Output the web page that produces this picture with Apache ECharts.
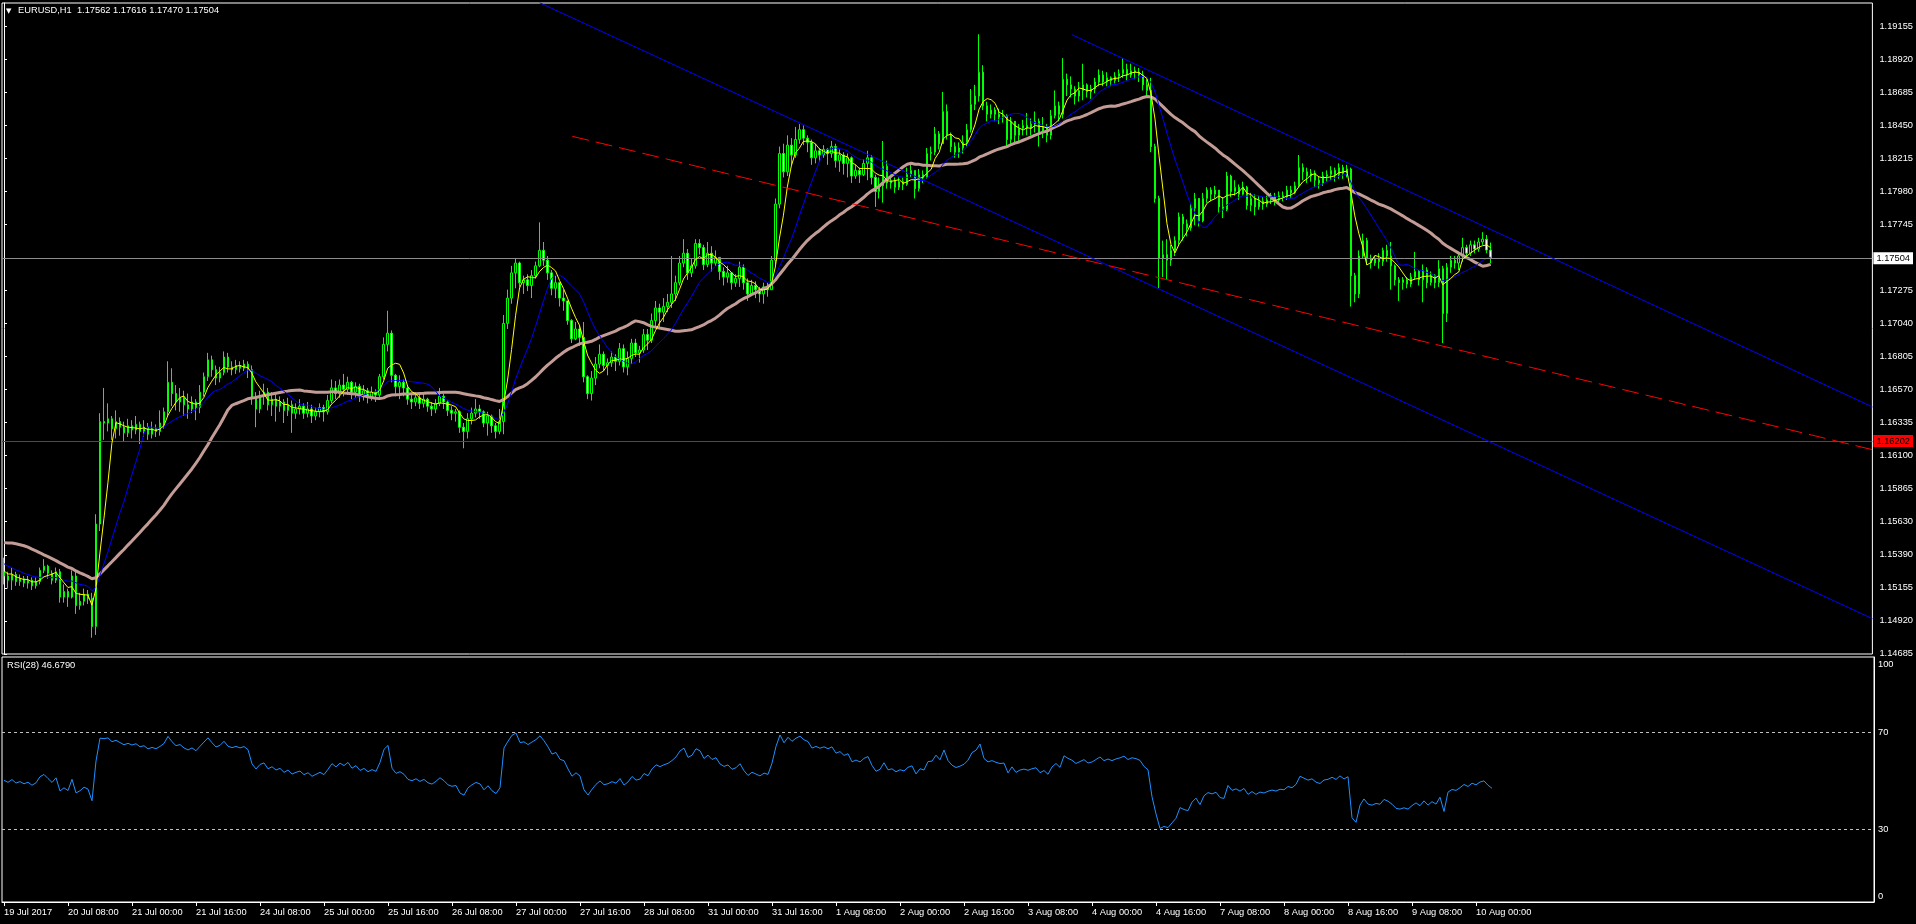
<!DOCTYPE html>
<html><head><meta charset="utf-8">
<script src="https://cdn.jsdelivr.net/npm/echarts@6/dist/echarts.min.js"></script>
<style>html,body{margin:0;padding:0;background:#000;overflow:hidden}#c{width:1916px;height:924px}</style>
</head><body><div id="c"></div>
<script>
// hourly closes before the first visible bar (used only to warm up MA / RSI)
const priorCloses = [1.1522,1.1530,1.1527,1.1538,1.1545,1.1542,1.1556,1.1566,1.1561,1.1574,1.1580,1.1572,1.1568,1.1574,1.1565,1.1560,1.1565,1.1557,1.1562,1.1554,1.1549,1.1554,1.1544,1.1538,1.1542,1.1534,1.1538,1.1530,1.1534,1.1527,1.1532,1.1525,1.1530,1.1527];

const closes = [
1.1524,1.1521,1.1525,1.1520,1.1522,1.1519,1.1521,1.1517,1.1520,1.1528,1.1531,1.1526,1.1521,1.1527,1.1509,1.1513,1.1509,1.1524,1.1503,1.1506,
1.1511,1.1508,1.1488,1.1561,1.1634,1.1633,1.1636,1.1629,1.1634,1.1630,1.1626,1.1631,1.1628,1.1632,1.1627,1.1630,1.1625,1.1629,1.1627,1.1633,
1.1641,1.1662,1.1654,1.1648,1.1651,1.1646,1.1643,1.1648,1.1644,1.1655,1.1666,1.1678,1.1671,1.1665,1.1669,1.1680,1.1673,1.1671,1.1674,1.1672,
1.1675,1.1671,1.1651,1.1643,1.1652,1.1655,1.1646,1.1650,1.1645,1.1648,1.1642,1.1646,1.1640,1.1643,1.1645,1.1640,1.1643,1.1638,1.1641,1.1644,
1.1641,1.1649,1.1658,1.1654,1.1660,1.1657,1.1662,1.1655,1.1659,1.1653,1.1656,1.1652,1.1655,1.1653,1.1666,1.1689,1.1697,1.1667,1.1659,1.1662,
1.1658,1.1650,1.1648,1.1651,1.1647,1.1650,1.1645,1.1643,1.1647,1.1652,1.1648,1.1642,1.1640,1.1641,1.1630,1.1627,1.1636,1.1640,1.1643,1.1641,
1.1633,1.1638,1.1631,1.1627,1.1634,1.1704,1.1722,1.1740,1.1747,1.1733,1.1735,1.1731,1.1738,1.1745,1.1756,1.1749,1.1740,1.1729,1.1733,1.1722,
1.1720,1.1706,1.1693,1.1700,1.1694,1.1666,1.1654,1.1665,1.1675,1.1682,1.1674,1.1676,1.1680,1.1677,1.1686,1.1673,1.1679,1.1690,1.1683,1.1685,
1.1696,1.1692,1.1706,1.1715,1.1712,1.1716,1.1719,1.1725,1.1733,1.1747,1.1754,1.1740,1.1745,1.1761,1.1758,1.1746,1.1754,1.1747,1.1751,1.1741,
1.1737,1.1740,1.1733,1.1736,1.1744,1.1733,1.1725,1.1731,1.1728,1.1725,1.1730,1.1728,1.1749,1.1789,1.1825,1.1812,1.1831,1.1824,1.1835,1.1842,
1.1836,1.1833,1.1822,1.1827,1.1824,1.1828,1.1825,1.1830,1.1820,1.1824,1.1818,1.1822,1.1809,1.1813,1.1810,1.1818,1.1822,1.1808,1.1798,1.1802,
1.1816,1.1804,1.1806,1.1801,1.1805,1.1803,1.1810,1.1813,1.1800,1.1810,1.1808,1.1825,1.1826,1.1839,1.1832,1.1855,1.1838,1.1830,1.1826,1.1829,
1.1833,1.1842,1.1860,1.1866,1.1883,1.1859,1.1853,1.1856,1.1853,1.1851,1.1852,1.1835,1.1848,1.1838,1.1843,1.1845,1.1843,1.1846,1.1848,1.1840,
1.1844,1.1838,1.1852,1.1859,1.1853,1.1878,1.1874,1.1871,1.1866,1.1870,1.1874,1.1869,1.1871,1.1876,1.1881,1.1876,1.1879,1.1877,1.1880,1.1882,
1.1885,1.1881,1.1884,1.1883,1.1881,1.1874,1.1870,1.1830,1.1793,1.1750,1.1753,1.1749,1.1756,1.1763,1.1780,1.1775,1.1772,1.1786,1.1793,1.1777,
1.1793,1.1799,1.1796,1.1799,1.1787,1.1785,1.1809,1.1798,1.1801,1.1796,1.1801,1.1788,1.1793,1.1787,1.1791,1.1789,1.1792,1.1794,1.1792,1.1795,
1.1794,1.1799,1.1797,1.1802,1.1815,1.1812,1.1809,1.1811,1.1806,1.1804,1.1809,1.1810,1.1813,1.1810,1.1815,1.1811,1.1814,1.1738,1.1725,1.1752,
1.1763,1.1750,1.1747,1.1750,1.1748,1.1756,1.1752,1.1745,1.1735,1.1733,1.1735,1.1732,1.1737,1.1741,1.1735,1.1742,1.1733,1.1738,1.1733,1.1743,
1.1711,1.1744,1.1749,1.1747,1.1752,1.1758,1.1754,1.1760,1.1757,1.1762,1.1764,1.17562,1.17504];

const highs = [
1.1537,1.1527,1.1530,1.1527,1.1525,1.1524,1.1524,1.1523,1.1523,1.1530,1.1536,1.1532,1.1528,1.1530,1.1529,1.1518,1.1515,1.1528,1.1527,1.1512,
1.1515,1.1514,1.1512,1.1568,1.1640,1.1658,1.1647,1.1638,1.1642,1.1637,1.1634,1.1636,1.1635,1.1638,1.1634,1.1635,1.1633,1.1634,1.1632,1.1642,
1.1644,1.1677,1.1672,1.1660,1.1658,1.1656,1.1654,1.1652,1.1650,1.1660,1.1669,1.1683,1.1681,1.1674,1.1673,1.1684,1.1683,1.1677,1.1678,1.1677,
1.1678,1.1677,1.1674,1.1655,1.1656,1.1661,1.1658,1.1655,1.1654,1.1652,1.1650,1.1651,1.1649,1.1647,1.1650,1.1647,1.1648,1.1646,1.1644,1.1647,
1.1646,1.1653,1.1664,1.1663,1.1664,1.1668,1.1666,1.1663,1.1662,1.1661,1.1660,1.1658,1.1659,1.1657,1.1668,1.1694,1.1713,1.1699,1.1668,1.1667,
1.1664,1.1660,1.1653,1.1655,1.1653,1.1654,1.1651,1.1648,1.1650,1.1658,1.1654,1.1649,1.1645,1.1643,1.1642,1.1633,1.1640,1.1644,1.1650,1.1646,
1.1642,1.1641,1.1639,1.1633,1.1643,1.1710,1.1728,1.1745,1.1750,1.1748,1.1738,1.1739,1.1742,1.1748,1.1776,1.1762,1.1752,1.1742,1.1738,1.1733,
1.1728,1.1720,1.1707,1.1705,1.1703,1.1705,1.1667,1.1670,1.1680,1.1689,1.1684,1.1679,1.1684,1.1682,1.1690,1.1689,1.1684,1.1693,1.1693,1.1688,
1.1700,1.1700,1.1711,1.1720,1.1718,1.1722,1.1725,1.1752,1.1738,1.1752,1.1764,1.1757,1.1750,1.1764,1.1764,1.1760,1.1762,1.1759,1.1756,1.1748,
1.1744,1.1745,1.1740,1.1739,1.1748,1.1746,1.1736,1.1735,1.1734,1.1730,1.1733,1.1733,1.1752,1.1793,1.1830,1.1832,1.1838,1.1836,1.1844,1.1846,
1.1845,1.1838,1.1835,1.1832,1.1829,1.1831,1.1829,1.1834,1.1832,1.1828,1.1826,1.1825,1.1823,1.1817,1.1815,1.1821,1.1827,1.1824,1.1810,1.1808,
1.1834,1.1820,1.1810,1.1808,1.1808,1.1808,1.1815,1.1818,1.1813,1.1814,1.1813,1.1829,1.1830,1.1844,1.1841,1.1869,1.1860,1.1840,1.1833,1.1833,
1.1838,1.1846,1.1871,1.1874,1.1910,1.1888,1.1862,1.1860,1.1858,1.1857,1.1856,1.1853,1.1851,1.1847,1.1846,1.1849,1.1854,1.1850,1.1855,1.1850,
1.1851,1.1846,1.1856,1.1870,1.1862,1.1893,1.1882,1.1880,1.1873,1.1876,1.1889,1.1875,1.1874,1.1879,1.1885,1.1884,1.1883,1.1880,1.1883,1.1885,
1.1893,1.1889,1.1889,1.1887,1.1886,1.1884,1.1878,1.1879,1.1832,1.1795,1.1763,1.1764,1.1760,1.1766,1.1783,1.1782,1.1778,1.1789,1.1797,1.1792,
1.1797,1.1801,1.1801,1.1802,1.1799,1.1794,1.1812,1.1810,1.1806,1.1803,1.1805,1.1802,1.1797,1.1796,1.1795,1.1794,1.1795,1.1797,1.1797,1.1798,
1.1798,1.1802,1.1802,1.1805,1.1824,1.1818,1.1815,1.1814,1.1813,1.1809,1.1812,1.1813,1.1816,1.1815,1.1818,1.1817,1.1817,1.1815,1.1740,1.1756,
1.1768,1.1765,1.1753,1.1752,1.1754,1.1758,1.1760,1.1762,1.1746,1.1737,1.1737,1.1737,1.1740,1.1755,1.1742,1.1746,1.1744,1.1741,1.1739,1.1749,
1.1745,1.1747,1.1752,1.1752,1.1754,1.1765,1.1760,1.1763,1.1763,1.1765,1.1769,1.1767,1.17616];

const lows = [
1.1518,1.1515,1.1514,1.1517,1.1517,1.1516,1.1515,1.1514,1.1515,1.1518,1.1526,1.1522,1.1518,1.1519,1.1505,1.1505,1.1502,1.1508,1.1497,1.1500,
1.1503,1.1504,1.1480,1.1482,1.1556,1.1621,1.1627,1.1621,1.1622,1.1624,1.1620,1.1623,1.1622,1.1625,1.1618,1.1623,1.1621,1.1622,1.1623,1.1624,
1.1629,1.1638,1.1645,1.1642,1.1641,1.1638,1.1636,1.1640,1.1635,1.1640,1.1652,1.1663,1.1666,1.1660,1.1662,1.1667,1.1669,1.1667,1.1668,1.1669,
1.1670,1.1665,1.1646,1.1630,1.1640,1.1646,1.1642,1.1638,1.1634,1.1641,1.1633,1.1638,1.1626,1.1636,1.1639,1.1636,1.1637,1.1633,1.1635,1.1637,
1.1634,1.1639,1.1647,1.1650,1.1651,1.1652,1.1653,1.1650,1.1651,1.1648,1.1649,1.1647,1.1649,1.1648,1.1651,1.1664,1.1684,1.1662,1.1652,1.1650,
1.1652,1.1646,1.1643,1.1645,1.1643,1.1644,1.1641,1.1638,1.1640,1.1645,1.1643,1.1638,1.1635,1.1634,1.1626,1.1615,1.1622,1.1632,1.1637,1.1636,
1.1630,1.1624,1.1626,1.1622,1.1625,1.1625,1.1700,1.1718,1.1729,1.1730,1.1725,1.1727,1.1722,1.1736,1.1744,1.1745,1.1735,1.1724,1.1722,1.1716,
1.1713,1.1703,1.1690,1.1692,1.1688,1.1662,1.1650,1.1649,1.1660,1.1672,1.1670,1.1667,1.1673,1.1670,1.1674,1.1669,1.1667,1.1675,1.1680,1.1676,
1.1683,1.1685,1.1690,1.1702,1.1700,1.1705,1.1712,1.1715,1.1720,1.1731,1.1744,1.1735,1.1737,1.1743,1.1753,1.1742,1.1744,1.1741,1.1745,1.1735,
1.1731,1.1733,1.1728,1.1730,1.1730,1.1728,1.1720,1.1724,1.1722,1.1719,1.1718,1.1723,1.1728,1.1746,1.1786,1.1808,1.1809,1.1817,1.1822,1.1832,
1.1831,1.1826,1.1817,1.1818,1.1819,1.1822,1.1817,1.1822,1.1815,1.1812,1.1810,1.1808,1.1804,1.1807,1.1804,1.1809,1.1806,1.1803,1.1787,1.1793,
1.1790,1.1800,1.1800,1.1797,1.1799,1.1799,1.1802,1.1808,1.1793,1.1798,1.1804,1.1807,1.1820,1.1824,1.1828,1.1832,1.1835,1.1826,1.1822,1.1822,
1.1825,1.1830,1.1840,1.1856,1.1862,1.1856,1.1848,1.1850,1.1848,1.1846,1.1847,1.1830,1.1832,1.1833,1.1834,1.1838,1.1838,1.1838,1.1840,1.1830,
1.1836,1.1833,1.1835,1.1850,1.1848,1.1850,1.1866,1.1865,1.1860,1.1862,1.1863,1.1865,1.1864,1.1868,1.1873,1.1873,1.1873,1.1873,1.1875,1.1876,
1.1879,1.1877,1.1879,1.1878,1.1876,1.1870,1.1866,1.1826,1.1790,1.1729,1.1737,1.1735,1.1745,1.1752,1.1760,1.1763,1.1766,1.1770,1.1774,1.1773,
1.1776,1.1790,1.1791,1.1793,1.1783,1.1779,1.1784,1.1794,1.1795,1.1792,1.1795,1.1785,1.1784,1.1781,1.1785,1.1785,1.1787,1.1789,1.1788,1.1790,
1.1791,1.1792,1.1793,1.1796,1.1801,1.1806,1.1804,1.1805,1.1801,1.1800,1.1802,1.1805,1.1806,1.1805,1.1807,1.1807,1.1808,1.1716,1.1719,1.1722,
1.1750,1.1746,1.1743,1.1745,1.1743,1.1745,1.1748,1.1728,1.1731,1.1720,1.1728,1.1729,1.1730,1.1735,1.1731,1.1719,1.1729,1.1731,1.1729,1.1730,
1.1690,1.1705,1.1740,1.1743,1.1742,1.1748,1.1750,1.1752,1.1754,1.1755,1.1760,1.1754,1.17470];

// x-axis tick labels, one every 16 hourly bars
const tickLabels = ['19 Jul 2017','20 Jul 08:00','21 Jul 00:00','21 Jul 16:00','24 Jul 08:00','25 Jul 00:00','25 Jul 16:00','26 Jul 08:00','27 Jul 00:00','27 Jul 16:00','28 Jul 08:00','31 Jul 00:00','31 Jul 16:00','1 Aug 08:00','2 Aug 00:00','2 Aug 16:00','3 Aug 08:00','4 Aug 00:00','4 Aug 16:00','7 Aug 08:00','8 Aug 00:00','8 Aug 16:00','9 Aug 08:00','10 Aug 00:00'];
const priceTicks = [1.19155,1.18920,1.18685,1.18450,1.18215,1.17980,1.17745,1.17275,1.17040,1.16805,1.16570,1.16335,1.16100,1.15865,1.15630,1.15390,1.15155,1.14920,1.14685];
const rsiTicks = [100,70,30,0];
const rsiLevels = [70,30];
const bidPrice = 1.17504;
const levelPrice = 1.16202;
const lastBar = {open:1.17562, high:1.17616, low:1.17470, close:1.17504};
const rsiLast = 46.6790;
// trend objects: [bar index, price] anchor points
const channelLower = [[134, 1.19325],[467.5, 1.14936]];
const channelUpper = [[267.2, 1.19097],[467.5, 1.16445]];
const midDashed = [[142.2, 1.18373],[467.5, 1.16140]];
const maPeriods = {fast:5, mid:13, slow:34};
const rsiPeriod = 28;
const totalSlots = 468;

const F = "'Liberation Sans',sans-serif";
const FS = 9.3;
const P = priorCloses.length;
const allC = priorCloses.concat(closes);
const opens = closes.map((c,i)=> i===0 ? priorCloses[P-1] : closes[i-1]);
const candleData = closes.map((c,i)=>[opens[i], c, lows[i], highs[i]]);
function sma(n){ return closes.map((_,i)=>{ const j=i+P; let s=0; for(let k=j-n+1;k<=j;k++) s+=allC[k]; return s/n; }); }
function rsi(n){
  const out = new Array(allC.length).fill(null);
  let g=0,l=0;
  for(let k=1;k<=n;k++){ const d=allC[k]-allC[k-1]; if(d>0) g+=d; else l-=d; }
  g/=n; l/=n; out[n] = l===0?100:100-100/(1+g/l);
  for(let k=n+1;k<allC.length;k++){ const d=allC[k]-allC[k-1]; g=(g*(n-1)+(d>0?d:0))/n; l=(l*(n-1)+(d<0?-d:0))/n; out[k]= l===0?100:100-100/(1+g/l); }
  return out.slice(P);
}
const slots = Array.from({length: totalSlots}, (_,i)=> String(i));
const showTick = (i)=> i%16===0 && i/16 < tickLabels.length;
const boxLabel = (txt, bg)=>({show:true, position:'end', distance:1, formatter:txt, color:'#000000', backgroundColor:bg, padding:[2,3,1,3], fontSize:FS, fontFamily:F});

const chart = echarts.init(document.getElementById('c'), null, {renderer:'canvas'});
chart.setOption({
  backgroundColor:'#000000',
  animation:false,
  textStyle:{fontFamily:F},
  grid:[
    {left:2, top:3, width:1872, height:651, show:true, borderColor:'#ffffff', borderWidth:1, backgroundColor:'transparent'},
    {left:2, top:657, width:1872, height:245, show:true, borderColor:'#ffffff', borderWidth:1, backgroundColor:'transparent'}
  ],
  xAxis:[
    {type:'category', gridIndex:0, data:slots, boundaryGap:true, show:false},
    {type:'value', gridIndex:0, min:-0.5, max:totalSlots-0.5, show:false},
    {type:'category', gridIndex:1, data:slots, boundaryGap:true,
      axisLine:{show:true, lineStyle:{color:'#ffffff'}},
      axisTick:{show:true, alignWithLabel:true, interval:(i)=>showTick(i), length:4, lineStyle:{color:'#ffffff'}},
      axisLabel:{show:true, interval:(i)=>showTick(i), formatter:(v,i)=>tickLabels[i/16]||'', align:'left', color:'#ffffff', fontSize:FS, fontFamily:F, margin:6},
      splitLine:{show:false}}
  ],
  yAxis:[
    {type:'value', gridIndex:0, position:'right', min:1.14684, max:1.19323,
      axisLine:{show:true, lineStyle:{color:'#ffffff'}},
      axisTick:{show:true, length:3, customValues:priceTicks, lineStyle:{color:'#ffffff'}},
      axisLabel:{show:true, customValues:priceTicks, formatter:(v)=>v.toFixed(5), color:'#ffffff', fontSize:FS, fontFamily:F, margin:7},
      splitLine:{show:false}},
    {type:'value', gridIndex:1, position:'right', min:0, max:101,
      axisLine:{show:true, lineStyle:{color:'#ffffff'}},
      axisTick:{show:false},
      axisLabel:{show:true, customValues:rsiTicks, color:'#ffffff', fontSize:FS, fontFamily:F, margin:4,
        formatter:(v)=> v===100 ? '{t|100}' : (v===0 ? '{b|0}' : String(v)),
        rich:{t:{padding:[11,0,0,0], color:'#ffffff', fontSize:FS, fontFamily:F}, b:{padding:[0,0,11,0], color:'#ffffff', fontSize:FS, fontFamily:F}}},
      splitLine:{show:false}}
  ],
  graphic:[
    {type:'text', left:6, top:8, style:{text:'▼', fill:'#ffffff', font:"7px 'DejaVu Sans'"}},
    {type:'text', left:18, top:6, style:{text:'EURUSD,H1  '+lastBar.open.toFixed(5)+' '+lastBar.high.toFixed(5)+' '+lastBar.low.toFixed(5)+' '+lastBar.close.toFixed(5), fill:'#ffffff', font:FS+"px "+F}},
    {type:'text', left:7, top:661, style:{text:'RSI('+rsiPeriod+') '+rsiLast.toFixed(4), fill:'#ffffff', font:FS+"px "+F}}
  ],
  series:[
    {type:'candlestick', name:'EURUSD', xAxisIndex:0, yAxisIndex:0, data:candleData, barWidth:2, z:2,
      itemStyle:{color:'#000000', color0:'#ffffff', borderColor:'#00ff00', borderColor0:'#00ff00', borderWidth:1}},
    {type:'line', name:'MA'+maPeriods.slow, xAxisIndex:0, yAxisIndex:0, data:sma(maPeriods.slow), showSymbol:false, z:3, lineStyle:{color:'#c49c96', width:3},
      markLine:{silent:true, symbol:['none','none'], animation:false, precision:5,
        data:[
          {yAxis:bidPrice, lineStyle:{color:'#8c8c8c', width:1, type:'solid'}, label:boxLabel(bidPrice.toFixed(5), '#ffffff')},
          {yAxis:levelPrice, lineStyle:{color:'#ff0000', width:1, type:'solid'}, label:boxLabel(levelPrice.toFixed(5), '#ff0000')}
        ]}},
    {type:'line', name:'MA'+maPeriods.mid, xAxisIndex:0, yAxisIndex:0, data:sma(maPeriods.mid), showSymbol:false, z:4, lineStyle:{color:'#0000ff', width:1}},
    {type:'line', name:'MA'+maPeriods.fast, xAxisIndex:0, yAxisIndex:0, data:sma(maPeriods.fast), showSymbol:false, z:5, lineStyle:{color:'#ffff00', width:1}},
    {type:'line', name:'channelLower', xAxisIndex:1, yAxisIndex:0, data:channelLower, showSymbol:false, clip:true, z:6, lineStyle:{color:'#0000ff', width:1}},
    {type:'line', name:'channelUpper', xAxisIndex:1, yAxisIndex:0, data:channelUpper, showSymbol:false, clip:true, z:6, lineStyle:{color:'#0000ff', width:1}},
    {type:'line', name:'midDashed', xAxisIndex:1, yAxisIndex:0, data:midDashed, showSymbol:false, clip:true, z:6, lineStyle:{color:'#ff0000', width:1, type:[17,7]}},
    {type:'line', name:'RSI', xAxisIndex:2, yAxisIndex:1, data:rsi(rsiPeriod), showSymbol:false, z:3, lineStyle:{color:'#1e90ff', width:1},
      markLine:{silent:true, symbol:['none','none'], animation:false, label:{show:false},
        lineStyle:{color:'#c0c0c0', width:1, type:[3,3]},
        data: rsiLevels.map(v=>({yAxis:v}))}}
  ]
});
</script></body></html>
